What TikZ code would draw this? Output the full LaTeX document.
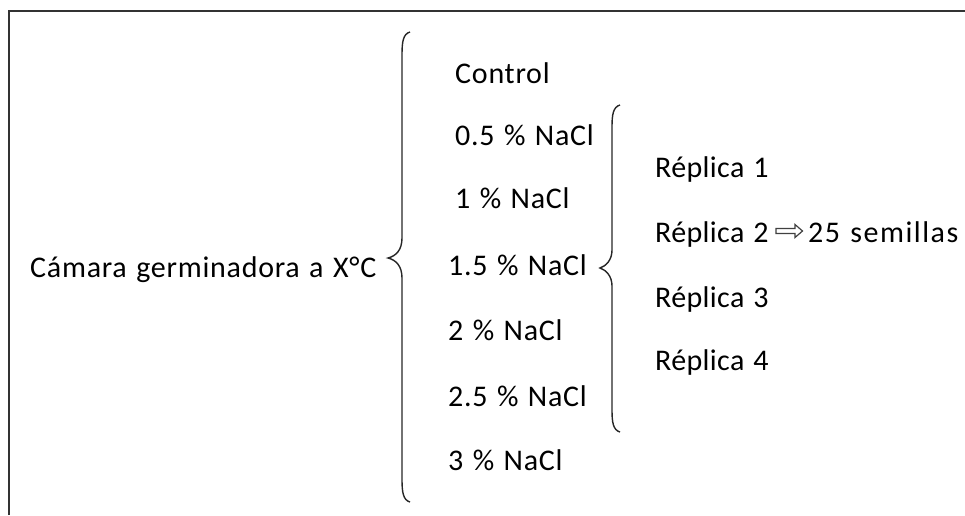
\documentclass[tikz,border=0pt]{standalone}
\usepackage{fontspec}
\setmainfont[LetterSpace=2.5,WordSpace=1.25]{Carlito}
\begin{document}
\begin{tikzpicture}[x=1pt,y=-1pt,
  lbl/.style={anchor=base west,inner sep=0pt,font=\fontsize{30}{36}\selectfont},
  repl/.style={lbl,font=\fontsize{30}{36}\selectfont\addfontfeature{LetterSpace=1.2}},
  brace/.style={draw=black!85,line width=1.4pt},
  frame/.style={draw=black!80,line width=2pt},
  hollowarrow/.style={draw=black!75,line width=1.2pt,line join=miter}]
\useasboundingbox (0,0) rectangle (965,515);
\coordinate (fb) at (8.5,515);
\coordinate (fc) at (8.5,10.5);
\coordinate (fr) at (965,10.5);
\draw[frame] (fb) -- (fc) -- (fr);
\node[lbl] (cam) at (30,277) {Cámara germinadora a X°C};
\node[lbl] (c0) at (455,83) {Control};
\node[lbl] (c1) at (455,145) {0.5 \% NaCl};
\node[lbl] (c2) at (455,208) {1 \% NaCl};
\node[lbl] (c3) at (448,275) {1.5 \% NaCl};
\node[lbl] (c4) at (448,340) {2 \% NaCl};
\node[lbl] (c5) at (448,406) {2.5 \% NaCl};
\node[lbl] (c6) at (448,470) {3 \% NaCl};
\node[repl] (r1) at (655,177) {Réplica 1};
\node[repl] (r2) at (655,242) {Réplica 2};
\node[repl] (r3) at (655,307) {Réplica 3};
\node[repl] (r4) at (655,370) {Réplica 4};
\node[lbl] (sem) at (808,242) {\addfontfeature{LetterSpace=5}25 semillas};
% hollow arrow between Réplica 2 and 25 semillas
\draw[hollowarrow] (776,228.5) -- (795,228.5) -- (795,224.5) -- (802.5,231)
  -- (795,237.5) -- (795,233.5) -- (776,233.5) -- cycle;
% big brace
\coordinate (bt) at (410,32);
\coordinate (btip) at (388,258);
\coordinate (bb) at (410,502);
\draw[brace] (bt) .. controls (403,34) and (402,42) .. (402,55)
  -- (402,238) .. controls (402,250) and (396,256) .. (btip)
  .. controls (396,260) and (402,266) .. (402,278)
  -- (402,479) .. controls (402,492) and (403,500) .. (bb);
% small brace
\coordinate (st) at (620,105);
\coordinate (stip) at (600,268);
\coordinate (sb) at (620,432);
\draw[brace] (st) .. controls (613,107) and (612,115) .. (612,127)
  -- (612,250) .. controls (612,260) and (606,266) .. (stip)
  .. controls (606,270) and (612,276) .. (612,286)
  -- (612,410) .. controls (612,422) and (613,430) .. (sb);
\end{tikzpicture}
\end{document}
